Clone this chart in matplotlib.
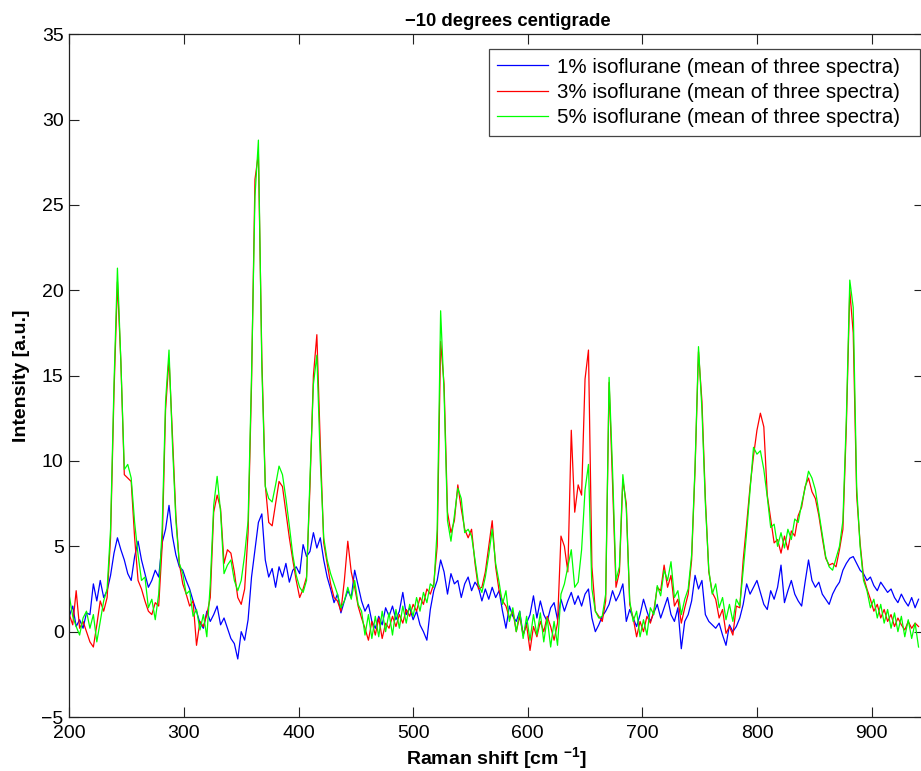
import numpy as np
import matplotlib
matplotlib.use("Agg")
import matplotlib.pyplot as plt

plt.rcParams['font.family'] = ['Liberation Sans', 'DejaVu Sans']
plt.rcParams['mathtext.fontset'] = 'custom'
plt.rcParams['mathtext.rm'] = 'Liberation Sans'
plt.rcParams['mathtext.bf'] = 'Liberation Sans:bold'

# Raman shift axis (cm^-1), 3 cm^-1 sampling
shift = np.arange(200, 942, 3)

# 1% isoflurane, mean of three spectra
iso_1 = [
    0.9, 1.5, 0.3, 0.7, 0.2, 1.1, 1.0, 2.8, 1.8, 3.0,
    2.0, 2.4, 3.3, 4.6, 5.5, 4.8, 4.2, 3.4, 3.0, 4.4,
    5.3, 4.2, 3.4, 2.6, 3.0, 3.6, 3.2, 5.2, 6.0, 7.4,
    5.6, 4.5, 3.8, 3.6, 3.0, 2.5, 1.8, 1.2, 0.5, 0.2,
    1.2, 0.6, 1.0, 1.5, 0.4, 0.8, 0.2, -0.4, -0.7, -1.6,
    0.0, -0.5, 0.7, 3.2, 4.8, 6.4, 6.9, 4.2, 3.2, 3.7,
    2.6, 3.8, 3.2, 4.0, 2.9, 3.6, 3.8, 3.4, 5.1, 4.4,
    4.7, 5.8, 4.9, 5.5, 4.2, 3.2, 2.5, 1.7, 2.2, 1.1,
    1.8, 2.4, 2.0, 3.6, 2.7, 1.8, 1.2, 1.6, 0.6, 0.2,
    0.9, 0.4, 1.4, 0.9, 1.5, 0.7, 1.2, 2.3, 1.0, 1.4,
    0.7, 1.2, 0.4, 0.0, -0.5, 1.3, 2.4, 3.0, 4.2, 3.5,
    2.2, 3.4, 2.8, 3.0, 2.0, 2.8, 3.2, 2.4, 2.9, 2.6,
    1.8, 2.5, 1.9, 2.6, 2.0, 2.4, 1.2, 0.2, 1.5, 0.9,
    0.6, 1.2, -0.2, 0.5, 1.0, 2.1, 0.8, 1.8, 1.0, 0.6,
    1.4, 1.7, 0.7, 1.9, 1.2, 1.8, 2.3, 1.6, 2.1, 1.5,
    2.2, 2.5, 0.8, 0.0, 0.4, 0.9, 1.2, 1.6, 2.4, 1.8,
    2.2, 2.8, 0.6, 1.3, 0.8, 0.3, 1.0, 1.9, 1.2, 0.6,
    1.1, 1.6, 0.8, 1.4, 2.0, 1.0, 0.6, 1.4, -1.0, 0.6,
    1.0, 1.8, 3.3, 2.5, 3.0, 1.0, 0.6, 0.4, 0.2, 0.5,
    -0.2, -0.8, 0.4, 0.0, 0.3, 0.8, 1.6, 2.8, 2.2, 2.6,
    3.0, 2.3, 1.6, 1.3, 2.4, 1.9, 2.6, 3.9, 1.7, 2.4,
    3.0, 2.2, 1.8, 1.5, 2.9, 4.2, 3.0, 2.6, 2.9, 2.2,
    1.9, 1.6, 2.2, 2.6, 2.9, 3.6, 4.0, 4.3, 4.4, 4.0,
    3.6, 3.4, 3.0, 3.2, 2.7, 2.4, 2.9, 2.6, 2.3, 2.5,
    2.0, 1.7, 2.2, 1.8, 1.5, 2.0, 1.4, 1.9,
]

# 3% isoflurane, mean of three spectra
iso_3 = [
    1.0, 0.4, 2.4, 0.2, 0.6, 0.0, -0.6, -0.9, 0.4, 1.8,
    1.2, 2.0, 5.5, 14.0, 20.5, 15.8, 9.2, 9.0, 8.8, 5.5,
    3.0, 2.5, 1.8, 1.2, 1.0, 1.7, 1.5, 5.0, 13.0, 16.0,
    11.5, 6.8, 4.0, 2.8, 2.2, 1.5, 1.8, -0.8, 0.6, 0.3,
    1.0, 2.0, 7.0, 8.0, 7.2, 4.0, 4.8, 4.6, 3.5, 2.0,
    1.6, 2.5, 5.8, 14.5, 26.5, 28.0, 16.0, 8.6, 6.4, 6.2,
    7.5, 8.8, 8.5, 7.0, 5.5, 4.2, 3.0, 2.0, 2.5, 3.2,
    8.5, 15.0, 17.4, 11.0, 5.2, 4.0, 2.8, 2.0, 1.8, 1.2,
    3.0, 5.3, 3.5, 2.6, 1.5, 0.8, 0.2, -0.5, 0.6, -0.2,
    0.8, -0.4, 0.5, 0.2, 0.9, 0.3, 1.0, 0.5, 1.3, 0.9,
    1.6, 1.2, 2.0, 1.6, 2.5, 2.2, 2.8, 5.0, 17.0, 14.5,
    7.0, 5.8, 6.5, 8.6, 7.2, 6.0, 5.5, 6.0, 4.0, 2.5,
    2.6, 3.5, 5.0, 6.5, 3.8, 2.4, 1.8, 1.5, 0.8, 1.2,
    0.0, 0.9, -0.2, 0.4, -1.1, 0.3, -0.3, 0.6, 0.0, 0.9,
    0.3, -0.5, 0.5, 5.6, 5.0, 3.5, 11.8, 7.0, 8.6, 8.0,
    14.8, 16.5, 3.8, 1.2, 0.9, 0.6, 1.8, 14.6, 8.7, 2.6,
    3.5, 8.9, 7.5, 1.6, 0.8, -0.3, 0.6, 0.0, 0.9, 0.5,
    1.2, 2.6, 2.4, 3.9, 2.6, 3.3, 1.5, 1.9, 0.5, 1.4,
    2.2, 4.2, 9.5, 16.4, 13.5, 7.8, 3.5, 2.3, 1.9, 0.8,
    1.3, -0.1, 0.3, -0.2, 1.5, 1.4, 4.2, 6.3, 8.5, 10.3,
    11.8, 12.8, 12.0, 8.0, 6.6, 5.2, 5.4, 4.6, 5.6, 4.8,
    5.9, 5.6, 6.8, 7.3, 8.5, 9.0, 8.2, 7.8, 6.8, 5.5,
    4.3, 3.9, 4.0, 3.8, 4.8, 6.0, 12.0, 20.0, 17.5, 8.0,
    5.2, 3.2, 2.5, 1.9, 1.2, 1.6, 0.8, 1.3, 0.6, 1.0,
    0.3, 0.8, 0.4, 0.1, 0.6, 0.2, 0.5, 0.3,
]

# 5% isoflurane, mean of three spectra
iso_5 = [
    2.1, 0.9, 0.3, -0.2, 0.8, 1.2, 0.2, 1.0, -0.6, 0.6,
    1.8, 2.5, 6.0, 14.5, 21.3, 15.8, 9.5, 9.8, 9.0, 6.4,
    4.5, 3.0, 3.2, 1.4, 1.9, 0.7, 2.2, 6.0, 13.5, 16.5,
    11.0, 6.5, 4.0, 3.4, 2.2, 2.4, 0.9, 1.3, 0.1, 1.0,
    -0.3, 2.8, 7.4, 9.1, 7.0, 3.4, 3.9, 4.2, 3.0, 2.4,
    3.0, 4.5, 6.5, 15.0, 25.5, 28.8, 15.5, 8.5, 7.8, 7.6,
    8.6, 9.7, 9.2, 7.8, 6.2, 4.5, 3.3, 2.6, 2.3, 3.0,
    9.0, 14.5, 16.2, 10.0, 5.5, 4.2, 3.4, 2.8, 2.2, 1.4,
    1.8, 2.6, 1.9, 3.0, 1.6, 1.2, -0.2, 1.0, -0.4, 0.9,
    -0.3, 1.2, 0.0, 1.1, -0.2, 1.3, 0.2, 1.5, 0.5, 1.6,
    0.9, 2.0, 1.2, 2.3, 1.7, 2.8, 2.6, 6.0, 18.8, 14.0,
    6.5, 5.3, 6.8, 8.4, 7.8, 5.8, 6.0, 5.6, 4.2, 2.8,
    2.3, 3.2, 4.5, 6.0, 4.0, 2.9, 1.6, 2.4, 0.6, 1.4,
    0.0, 1.2, -0.4, 0.9, -0.5, 1.0, -0.2, 1.1, -0.6, 0.8,
    -0.9, 0.6, -0.8, 2.2, 2.8, 3.8, 4.8, 2.6, 2.9, 4.8,
    8.3, 9.8, 2.5, 1.2, 0.8, 0.9, 2.2, 14.9, 9.5, 3.0,
    3.8, 9.2, 7.2, 1.8, 0.6, 1.2, -0.3, 0.7, -0.2, 1.4,
    1.0, 2.7, 2.1, 3.6, 3.0, 4.1, 2.0, 2.4, 1.0, 1.9,
    2.5, 4.5, 9.7, 16.7, 13.0, 7.5, 3.6, 2.2, 2.8, 1.4,
    2.0, 0.7, 1.6, 0.6, 1.9, 1.5, 3.6, 5.8, 8.3, 10.8,
    10.4, 10.6, 9.5, 7.9, 6.1, 6.3, 5.0, 5.8, 4.9, 6.0,
    5.4, 6.6, 6.4, 7.5, 8.4, 9.4, 9.0, 8.3, 7.0, 5.7,
    4.4, 3.8, 3.6, 4.3, 5.0, 6.5, 12.5, 20.6, 19.0, 8.5,
    5.0, 3.0, 2.4, 1.4, 1.9, 0.8, 1.6, 0.5, 1.3, 0.2,
    1.1, 0.0, 0.9, -0.3, 0.7, -0.4, 0.5, -0.9,
]

labels = [
    "1% isoflurane (mean of three spectra)  ",
    "3% isoflurane (mean of three spectra)  ",
    "5% isoflurane (mean of three spectra)  ",
]
colors = ["#0000ff", "#ff0000", "#00ff00"]

W, H = 921, 771
fig = plt.figure(figsize=(W / 100, H / 100), dpi=100)
left, right, top, bottom = 69.3, 923.7, 34.3, 717.0
ax = fig.add_axes([left / W, 1 - bottom / H, (right - left) / W, (bottom - top) / H])

for series, lab, col in zip([iso_1, iso_3, iso_5], labels, colors):
    ax.plot(shift, series, color=col, lw=0.9, label=lab)

ax.set_xlim(200, 945.5)
ax.set_ylim(-5, 35)
ax.set_xticks(np.arange(200, 901, 100))
ax.set_yticks(np.arange(-5, 36, 5))
ax.tick_params(direction='in', length=7, width=0.8, top=True, right=True,
               labelsize=14, colors='#222222', labelcolor='black')
ax.tick_params(axis='x', pad=6)
ax.tick_params(axis='y', pad=4)
for sp in ax.spines.values():
    sp.set_color('#222222')
    sp.set_linewidth(0.9)

ax.set_title("\u221210 degrees centigrade", fontsize=13.3, fontweight='bold',
             pad=6, x=(508 - left) / (right - left))
ax.set_xlabel(r"Raman shift [cm $^{\mathbf{-1}}$]", fontsize=14, fontweight='bold', labelpad=2)
ax.set_ylabel("Intensity [a.u.]", fontsize=14, fontweight='bold', labelpad=8)

leg = ax.legend(loc='upper right', bbox_to_anchor=(920 / W, 1 - 49 / H),
                bbox_transform=fig.transFigure, borderaxespad=0,
                fancybox=False, framealpha=1, edgecolor='#444444',
                fontsize=14.8, handlelength=2.45, handletextpad=0.45,
                borderpad=0.42, labelspacing=0.3)
leg.get_frame().set_linewidth(0.9)

fig.savefig("out.png", dpi=100)
